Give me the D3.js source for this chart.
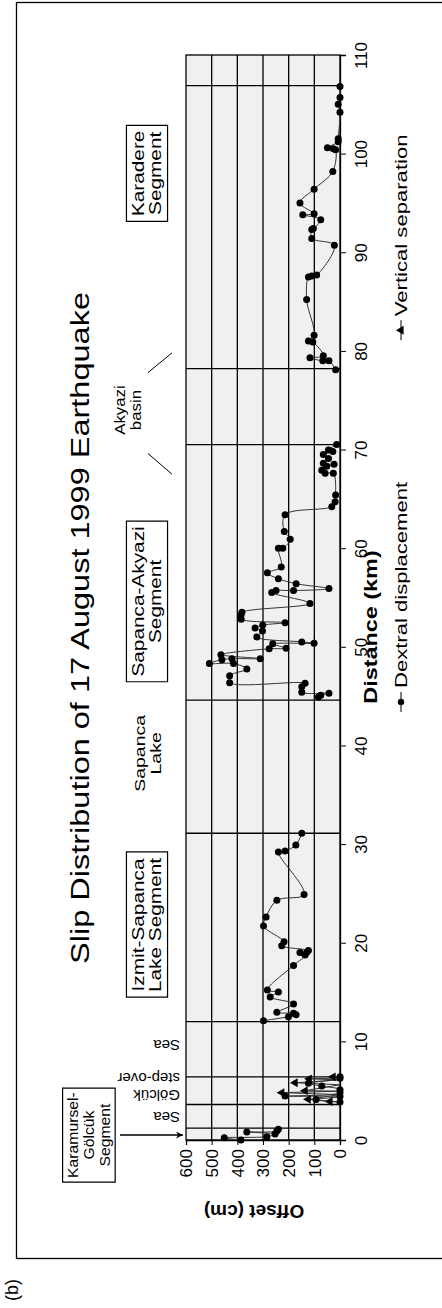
<!DOCTYPE html>
<html>
<head>
<meta charset="utf-8">
<script src="https://cdnjs.cloudflare.com/ajax/libs/d3/7.8.5/d3.min.js"></script>
<style>
  body { margin: 0; background: #fff; }
  text { font-family: "Liberation Sans", Arial, Helvetica, sans-serif; fill: #000; }
</style>
</head>
<body>
<div id="chart"></div>
<script>

// Data: distance along rupture (km) and offset (cm)
// ==============================
var dextralKm = [0, 0.23, 0.34, 0.6, 0.81, 0.9, 1.08,
  3.85, 4.1, 4.4, 4.45, 4.8, 5.1, 5.47, 5.75, 6.25, 6.42,
  12.1, 12.5, 12.7, 12.84, 12.94, 13.8, 14.5, 15.0, 15.2, 17.7, 18.75, 19.0, 19.0, 19.2, 19.7, 20.1, 21.7, 22.6, 24.3, 24.9, 29.2, 29.3, 29.9, 31.1,
  44.9, 45.1, 45.3, 45.4, 45.96, 46.3, 46.36, 47.07, 47.75, 48.3, 48.3, 48.7, 48.8, 48.8, 49.2, 49.8, 49.85, 50.3, 50.35, 50.5,
  51.0, 51.6, 51.9, 52.2, 52.45, 52.8, 53.2, 53.5, 54.4, 55.5, 55.7, 55.7, 55.9, 56.4, 56.9, 57.5, 58.1, 60.0, 60.0, 60.9, 61.7, 63.4,
  64.2, 64.7, 65.4, 67.6, 67.6, 67.9, 68.3, 68.5, 68.6, 69.1, 69.5, 69.8, 69.95, 70.5,
  78.1, 79.0, 79.0, 79.3, 79.5, 80.9, 81.0, 81.6, 85.2, 87.5, 87.6, 87.7, 90.7, 91.4, 92.3, 92.4, 93.3, 93.8, 93.9, 95.0, 96.4, 98.2,
  100.4, 100.5, 100.6, 101.2, 101.5, 104.2, 105.0, 105.7, 106.8];
var dextralCm = [386, 451, 285, 253, 363, 246, 240,
  0, 93, 0, 214, 0, 0, 71, 123, 0, 0,
  298, 201, 171, 181, 246, 181, 272, 240, 283, 181, 136, 156, 130, 123, 227, 218, 298, 288, 246, 140, 240, 214, 172, 149,
  84, 75, 43, 149, 149, 136, 430, 430, 363, 415, 509, 460, 421, 311, 464, 276, 210, 262, 101, 149,
  324, 302, 331, 301, 214, 385, 386, 382, 117, 266, 249, 181, 43, 171, 240, 283, 229, 240, 223, 194, 217, 214,
  32, 19, 17, 26, 58, 71, 52, 23, 65, 45, 65, 28, 45, 13,
  17, 43, 67, 117, 65, 106, 123, 101, 130, 123, 110, 91, 22, 110, 110, 104, 75, 145, 101, 156, 101, 28,
  17, 26, 49, 7, 7, 0, 7, 0, 0];

var verticalKm = [3.87, 3.9, 4.12, 4.6, 4.8, 4.95, 5.0, 5.6, 5.8, 6.1, 6.2, 6.3, 6.4];
var verticalCm = [0, 39, 124, 0, 227, 0, 136, 0, 175, 0, 120, 0, 27];

// places where the surveyed trace stops (lake, sea, basin)
var gapKm = [2.4, 9.0, 38.0, 74.0];

var distanceTicks = [0, 10, 20, 30, 40, 50, 60, 70, 80, 90, 100, 110];
var offsetTicks = [0, 100, 200, 300, 400, 500, 600];

// segment boundaries (km)
var boundaryKm = [1.2, 3.6, 6.4, 12.0, 31.1, 44.6, 70.5, 78.2, 106.9];

// labelled stretches (km at label centre)
var boxedNames = [["Izmit-Sapanca", "Lake Segment"], ["Sapanca-Akyazi", "Segment"], ["Karadere", "Segment"]];
var boxedKm = [21.8, 54.6, 98.0];
var plainNames = [["Sapanca", "Lake"], ["Akyazi", "basin"]];
var plainKm = [39.2, 74.0];
var flippedNames = [["Sea"], ["Gölcük", "step-over"], ["Sea"]];
var flippedKm = [2.3, 5.4, 9.6];

var legendNames = ["Dextral displacement", "Vertical separation"];
var legendKm = [44.4, 82.1];

var groupOf = k => gapKm.filter(g => g < k).length;
var dextral = dextralKm.map(function(k, i) { return { km: k, cm: dextralCm[i] }; });
var vertical = verticalKm.map(function(k, i) { return { km: k, cm: verticalCm[i] }; });
var dextralGroups = d3.groups(dextral, d => groupOf(d.km)).map(g => g[1]);

// Page layout (chart is drawn turned on its side)
// ==============================
var svgWidth = 442;
var svgHeight = 1308;
var plot = { left: 186, right: 340, top: 55, bottom: 1140 };
var stretch = 1.3;   // lettering in the figure runs long

var svg = d3.select("#chart")
  .append("svg")
  .attr("width", svgWidth)
  .attr("height", svgHeight);

// scales: offset runs across the page, distance runs up the page
var xScale = d3.scaleLinear().domain([0, 600]).range([plot.right, plot.left]);
var yScale = d3.scaleLinear().domain([0, 110]).range([plot.bottom, plot.top]);

// outer frame
svg.append("rect")
  .attr("x", 16.5).attr("y", 2.5)
  .attr("width", 440).attr("height", 1256)
  .attr("fill", "none").attr("stroke", "#000").attr("stroke-width", 1.3);

svg.append("text")
  .attr("transform", "translate(12,1290) rotate(-90)")
  .attr("text-anchor", "middle")
  .attr("dy", "0.35em")
  .attr("font-size", 18)
  .text("(b)");

// plot background
svg.append("rect")
  .attr("x", plot.left).attr("y", plot.top)
  .attr("width", plot.right - plot.left).attr("height", plot.bottom - plot.top)
  .attr("fill", "#f0f0f0").attr("stroke", "#000").attr("stroke-width", 1.3);

// offset grid lines
svg.append("g").selectAll("line")
  .data(offsetTicks.slice(1, -1))
  .enter().append("line")
  .attr("x1", d => xScale(d)).attr("x2", d => xScale(d))
  .attr("y1", plot.top).attr("y2", plot.bottom)
  .attr("stroke", "#000").attr("stroke-width", 1.3);

// segment boundaries
svg.append("g").selectAll("line")
  .data(boundaryKm)
  .enter().append("line")
  .attr("x1", plot.left).attr("x2", plot.right)
  .attr("y1", d => yScale(d)).attr("y2", d => yScale(d))
  .attr("stroke", "#000").attr("stroke-width", 1.3);

// Axes
// ==============================
var distAxis = d3.axisRight(yScale).tickValues(distanceTicks).tickSize(6).tickFormat(d3.format("d"));
var distG = svg.append("g")
  .attr("transform", `translate(${plot.right}, 0)`)
  .call(distAxis);
distG.select(".domain").attr("stroke-width", 1.3);
distG.selectAll("text")
  .attr("x", null).attr("dy", "0.35em")
  .attr("transform", "translate(21,0) rotate(-90)")
  .attr("text-anchor", "middle")
  .attr("font-size", 17);

var offAxis = d3.axisBottom(xScale).tickValues(offsetTicks).tickSize(5).tickFormat(d3.format("d"));
var offG = svg.append("g")
  .attr("transform", `translate(0, ${plot.bottom})`)
  .call(offAxis);
offG.select(".domain").attr("stroke-width", 1.3);
offG.selectAll("text")
  .attr("y", null).attr("dy", "0.35em")
  .attr("transform", "translate(0,9) rotate(-90)")
  .attr("text-anchor", "end")
  .attr("font-size", 17);

// axis titles
svg.append("text")
  .attr("transform", `translate(371,627) rotate(-90) scale(${stretch},1)`)
  .attr("text-anchor", "middle").attr("dy", "0.35em")
  .attr("font-size", 18).attr("font-weight", "bold")
  .text("Distance (km)");

svg.append("text")
  .attr("transform", "translate(254,1212) rotate(180)")
  .attr("text-anchor", "middle").attr("dy", "0.35em")
  .attr("font-size", 19).attr("font-weight", "bold")
  .text("Offset (cm)");

svg.append("text")
  .attr("transform", `translate(80,628) rotate(-90) scale(${stretch},1)`)
  .attr("text-anchor", "middle").attr("dy", "0.35em")
  .attr("font-size", 25)
  .text("Slip Distribution of 17 August 1999 Earthquake");

// Series
// ==============================
var smooth = d3.line()
  .x(d => xScale(d.cm))
  .y(d => yScale(d.km))
  .curve(d3.curveCatmullRom.alpha(0.5));

var straight = d3.line()
  .x(d => xScale(d.cm))
  .y(d => yScale(d.km));

svg.append("g").selectAll("path")
  .data(dextralGroups)
  .enter().append("path")
  .attr("d", smooth)
  .attr("fill", "none").attr("stroke", "#333").attr("stroke-width", 1);

svg.append("path")
  .datum(vertical)
  .attr("d", straight)
  .attr("fill", "none").attr("stroke", "#333").attr("stroke-width", 1);

var tri = d3.symbol().type(d3.symbolTriangle).size(34);
svg.append("g").selectAll("path")
  .data(vertical.filter(d => d.cm > 0))
  .enter().append("path")
  .attr("d", tri)
  .attr("transform", d => `translate(${xScale(d.cm)}, ${yScale(d.km)}) rotate(-90)`)
  .attr("fill", "#000");

svg.append("g").selectAll("circle")
  .data(dextral)
  .enter().append("circle")
  .attr("cx", d => xScale(d.cm))
  .attr("cy", d => yScale(d.km))
  .attr("r", 3.5)
  .attr("fill", "#000");

// Annotations
// ==============================
function multiLine(g, lines, size, gap) {
  var n = lines.length;
  lines.forEach(function(t, i) {
    g.append("text")
      .attr("y", (i - (n - 1) / 2) * gap)
      .attr("dy", "0.35em")
      .attr("text-anchor", "middle")
      .attr("font-size", size)
      .text(t);
  });
}

boxedNames.forEach(function(lines, i) {
  var g = svg.append("g")
    .attr("transform", `translate(147, ${yScale(boxedKm[i])}) rotate(-90) scale(${stretch},1)`);
  multiLine(g, lines, 16, 17);
  var bb = g.node().getBBox();
  g.insert("rect", "text")
    .attr("x", bb.x - 4).attr("y", bb.y - 3)
    .attr("width", bb.width + 8).attr("height", bb.height + 6)
    .attr("fill", "#fff").attr("stroke", "#000")
    .attr("stroke-width", 1.2).attr("vector-effect", "non-scaling-stroke");
});

plainNames.forEach(function(lines, i) {
  var g = svg.append("g")
    .attr("transform", `translate(${i === 0 ? 148 : 128}, ${yScale(plainKm[i])}) rotate(-90) scale(${i === 0 ? stretch : 1.2},1)`);
  multiLine(g, lines, i === 0 ? 15 : 14, 16);
});

// Akyazi basin pointers
svg.append("line")
  .attr("x1", 148).attr("y1", yScale(77.8)).attr("x2", 172).attr("y2", yScale(79.8))
  .attr("stroke", "#000").attr("stroke-width", 1);
svg.append("line")
  .attr("x1", 148).attr("y1", yScale(69.6)).attr("x2", 172).attr("y2", yScale(67.5))
  .attr("stroke", "#000").attr("stroke-width", 1);

// Karamursel-Gölcük box and arrow
var kg = svg.append("g")
  .attr("transform", `translate(89, ${yScale(0.5)}) rotate(-90) scale(1.05,1)`);
multiLine(kg, ["Karamursel-", "Gölcük", "Segment"], 15, 16);
var kb = kg.node().getBBox();
kg.insert("rect", "text")
  .attr("x", kb.x - 4).attr("y", kb.y - 2)
  .attr("width", kb.width + 8).attr("height", kb.height + 4)
  .attr("fill", "#fff").attr("stroke", "#000")
  .attr("stroke-width", 1.2).attr("vector-effect", "non-scaling-stroke");

svg.append("defs").append("marker")
  .attr("id", "arrow").attr("viewBox", "0 0 10 10")
  .attr("refX", 10).attr("refY", 5)
  .attr("markerWidth", 9).attr("markerHeight", 7)
  .attr("markerUnits", "userSpaceOnUse")
  .attr("orient", "auto")
  .append("path").attr("d", "M0,0 L10,5 L0,10 L3,5 Z").attr("fill", "#000");

svg.append("line")
  .attr("x1", 120).attr("x2", 183)
  .attr("y1", yScale(0.5)).attr("y2", yScale(0.5))
  .attr("stroke", "#000").attr("stroke-width", 1.6)
  .attr("marker-end", "url(#arrow)");

// upside-down small labels in the Gölcük area
flippedNames.forEach(function(lines, i) {
  var g = svg.append("g")
    .attr("transform", `translate(180, ${yScale(flippedKm[i])}) rotate(180)`);
  var n = lines.length;
  lines.forEach(function(t, j) {
    g.append("text")
      .attr("y", (j - (n - 1) / 2) * 17)
      .attr("dy", "0.35em")
      .attr("font-size", 15)
      .text(t);
  });
});

// Legend
// ==============================
legendNames.forEach(function(name, i) {
  var cy = yScale(legendKm[i]);
  var g = svg.append("g").attr("transform", `translate(401, ${cy})`);
  g.append("line").attr("x1", 0).attr("x2", 0).attr("y1", 10).attr("y2", -10)
    .attr("stroke", "#000").attr("stroke-width", 1);
  if (i === 0) {
    g.append("circle").attr("r", 3.2).attr("fill", "#000");
  } else {
    g.append("path").attr("d", tri).attr("transform", "rotate(-90)").attr("fill", "#000");
  }
  g.append("text")
    .attr("transform", `translate(0,-14) rotate(-90) scale(${stretch},1)`)
    .attr("dy", "0.35em")
    .attr("font-size", 17)
    .text(name);
});

</script>
</body>
</html>
